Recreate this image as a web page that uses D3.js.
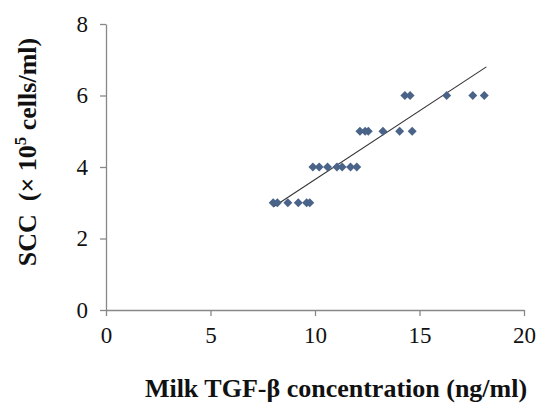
<!DOCTYPE html>
<html>
<head>
<meta charset="UTF-8">
<title>SCC vs TGF-beta</title>
<style>
  body { margin: 0; background: #fff; }
  .axis path, .axis line { stroke: #888; stroke-width: 1.3px; }
  .axis text { font-family: "Liberation Serif", "DejaVu Serif", serif; font-size: 23px; fill: #111; }
  .title { font-family: "Liberation Serif", "DejaVu Serif", serif; font-size: 26px; font-weight: bold; fill: #111; }
  .dot { fill: #4a6388; }
  .trend { stroke: #333; stroke-width: 1.1px; fill: none; }
</style>
</head>
<body>
<svg width="538" height="404"></svg>
<script src="https://cdn.jsdelivr.net/npm/d3@7"></script>
<script>
// TGF-beta (ng/ml) for each SCC level
var scc3 = [8.0, 8.2, 8.7, 9.2, 9.6, 9.75];
var scc4 = [9.9, 10.2, 10.6, 11.05, 11.3, 11.7, 12.0];
var scc5 = [12.15, 12.4, 12.55, 13.25, 14.05, 14.65];
var scc6 = [14.3, 14.55, 16.3, 17.55, 18.1];
// trend line end points
var trendX = [8.0, 18.2];
var trendY = [2.88, 6.8];
var xTicks = [0, 5, 10, 15, 20];
var yTicks = [0, 2, 4, 6, 8];

var points = [];
[[3, scc3], [4, scc4], [5, scc5], [6, scc6]].forEach(function(r){
  r[1].forEach(function(v){ points.push({x: v, y: r[0]}); });
});

var svg = d3.select("svg"),
    margin = {top: 24, right: 14, bottom: 94, left: 106},
    width = svg.attr("width") - margin.left - margin.right,
    height = svg.attr("height") - margin.top - margin.bottom;

var x = d3.scaleLinear().domain([0, 20]).range([0, width]);
var y = d3.scaleLinear().domain([0, 8]).range([height, 0]);

var g = svg.append("g").attr("transform", "translate(" + margin.left + "," + margin.top + ")");

g.append("g")
  .attr("class", "axis")
  .attr("transform", "translate(0," + height + ")")
  .call(d3.axisBottom(x).tickValues(xTicks).tickSize(6).tickSizeOuter(0).tickPadding(11))
  .attr("font-family", null).attr("font-size", null);

g.append("g")
  .attr("class", "axis")
  .call(d3.axisLeft(y).tickValues(yTicks).tickSize(6).tickSizeOuter(0).tickPadding(12))
  .attr("font-family", null).attr("font-size", null);

g.append("line")
  .attr("class", "trend")
  .attr("x1", x(trendX[0])).attr("y1", y(trendY[0]))
  .attr("x2", x(trendX[1])).attr("y2", y(trendY[1]));

g.selectAll(".dot")
  .data(points)
  .enter()
  .append("path")
  .attr("class", "dot")
  .attr("d", d3.symbol(d3.symbolSquare, 40))
  .attr("transform", function(d){ return "translate(" + x(d.x) + "," + y(d.y) + ") rotate(45)"; });

svg.append("text")
  .attr("class", "title")
  .attr("x", 336).attr("y", 397)
  .attr("text-anchor", "middle")
  .text("Milk TGF-\u03b2 concentration (ng/ml)");

var yl = svg.append("text")
  .attr("class", "title")
  .attr("transform", "translate(36,152) rotate(-90)")
  .attr("text-anchor", "middle")
  .attr("xml:space", "preserve");
yl.append("tspan").text("SCC  (\u00d7 10");
yl.append("tspan").attr("dy", -10).attr("font-size", "17px").text("5");
yl.append("tspan").attr("dy", 10).text(" cells/ml)");
</script>
</body>
</html>
